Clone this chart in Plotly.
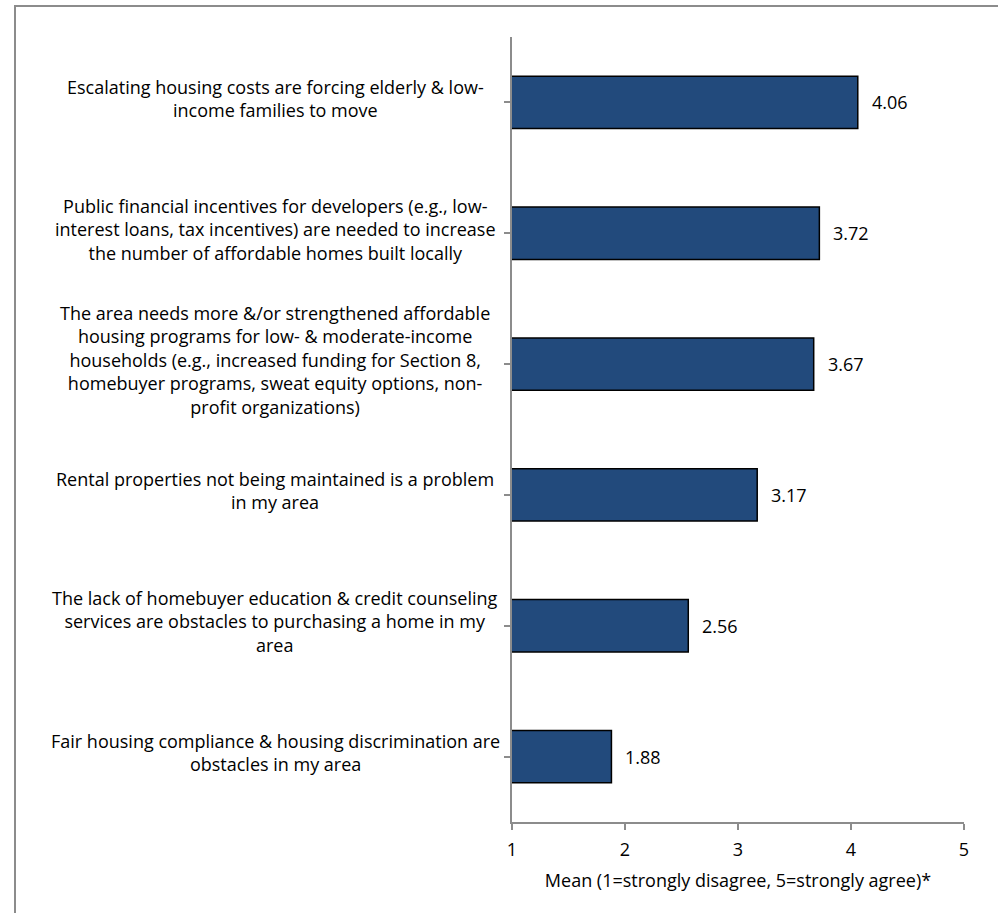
import plotly.graph_objects as go

categories = [
    "Escalating housing costs are forcing elderly & low-<br>income families to move",
    "Public financial incentives for developers (e.g., low-<br>interest loans, tax incentives) are needed to increase<br>the number of affordable homes built locally",
    "The area needs more &/or strengthened affordable<br>housing programs for low- & moderate-income<br>households (e.g., increased funding for Section 8,<br>homebuyer programs, sweat equity options, non-<br>profit organizations)",
    "Rental properties not being maintained is a problem<br>in my area",
    "The lack of homebuyer education & credit counseling<br>services are obstacles to purchasing a home in my<br>area",
    "Fair housing compliance & housing discrimination are<br>obstacles in my area",
]
means = [4.06, 3.72, 3.67, 3.17, 2.56, 1.88]
x_ticks = [1, 2, 3, 4, 5]
x_title = "Mean (1=strongly disagree, 5=strongly agree)*"

W, H = 998, 913
L, R, T, B = 512, 34, 37, 91
pw, ph = W - L - R, H - T - B
FONT = "Open Sans"
FS = 18

ids = list(range(len(categories)))

fig = go.Figure(go.Bar(
    x=means, y=ids, orientation="h",
    marker=dict(color="#224a7c", line=dict(color="#000000", width=1.5)),
    width=0.4,
    hoverinfo="skip",
))

ann = []
for i, (c, v) in enumerate(zip(categories, means)):
    ann.append(dict(x=(275 - L) / pw, xref="paper", y=i, yref="y", text=c,
                    showarrow=False, xanchor="center", yanchor="middle", align="center",
                    yshift=4, font=dict(family=FONT, size=FS, color="#000")))
    ann.append(dict(x=v, xref="x", y=i, yref="y", text=f"{v:.2f}", showarrow=False,
                    xanchor="left", yanchor="middle", xshift=12,
                    font=dict(family=FONT, size=FS, color="#000")))

fig.update_layout(
    width=W, height=H,
    margin=dict(l=L, r=R, t=T, b=B),
    paper_bgcolor="white", plot_bgcolor="white",
    showlegend=False,
    font=dict(family=FONT, size=FS, color="#000"),
    xaxis=dict(range=[1, 5], tickvals=x_ticks, ticktext=[str(t) for t in x_ticks],
               showgrid=False, zeroline=False, showline=True, linecolor="#8c8c8c", linewidth=1.5,
               ticks="outside", ticklen=6, tickcolor="#8c8c8c", tickwidth=1.5,
               ticklabelstandoff=5,
               title=dict(text=x_title, standoff=14, font=dict(family=FONT, size=FS)),
               tickfont=dict(family=FONT, size=FS)),
    yaxis=dict(range=[5.5, -0.5], tickvals=ids, showticklabels=False,
               showgrid=False, zeroline=False, showline=True, linecolor="#8c8c8c", linewidth=1.5,
               ticks="outside", ticklen=6, tickcolor="#8c8c8c", tickwidth=1.5,
               tickson="boundaries", type="linear"),
    annotations=ann,
    shapes=[dict(type="rect", xref="paper", yref="paper",
                 x0=(15 - L) / pw, x1=(W + 10 - L) / pw,
                 y0=-(B + 10) / ph, y1=1 + (T - 6) / ph,
                 line=dict(color="#8c8c8c", width=2), fillcolor="rgba(0,0,0,0)", layer="below")],
)

fig.write_html("out.html", config={"displayModeBar": False},
               post_script="document.body.style.margin='0';document.body.style.overflow='hidden';")
